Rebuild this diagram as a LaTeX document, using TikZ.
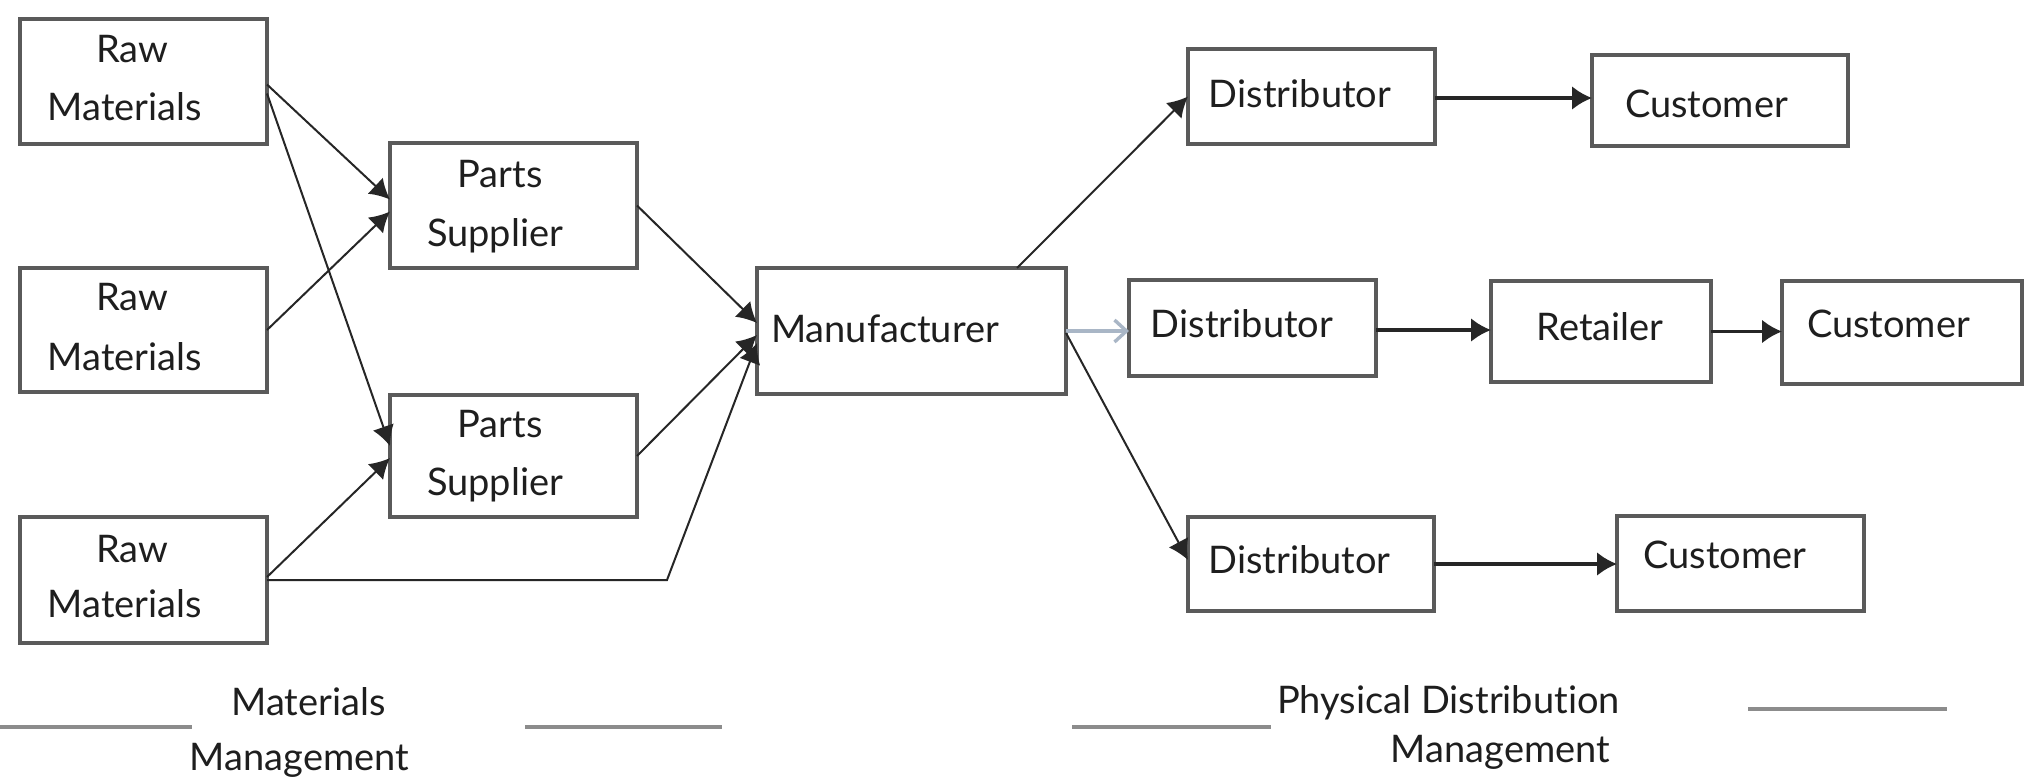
\documentclass[tikz,border=0pt]{standalone}
\usepackage{fontspec}
\setmainfont{Lato}[Ligatures={NoCommon}]
\usetikzlibrary{arrows.meta}
\definecolor{boxgray}{HTML}{5A5A5A}
\definecolor{txtcol}{HTML}{1E1E1E}
\definecolor{lblgray}{HTML}{8C8C8C}
\definecolor{lightarrow}{HTML}{A9B6C6}
\begin{document}
\begin{tikzpicture}[x=0.5pt,y=-0.5pt,
  box/.style={draw=boxgray, line width=1.6pt, inner sep=0pt, outer sep=0pt, fill=white},
  sz/.style 2 args={minimum width=#1*0.5pt, minimum height=#2*0.5pt},
  txt/.style={anchor=base, inner sep=0pt, font=\fontsize{19}{23}\selectfont, text=txtcol},
  conn/.style={draw=black!85, line width=1pt, -{Latex[length=10pt,width=11pt]}},
  thick conn/.style={draw=black!85, line width=1.7pt, -{Latex[length=10pt,width=12pt]}},
  lightconn/.style={draw=lightarrow, line width=1.7pt, -{Straight Barb[length=6pt,width=11pt,line width=1.7pt]}},
  lbl/.style={draw=lblgray, line width=2pt}
]
\useasboundingbox[fill=white] (0,0) rectangle (2024,782);

% boxes
\node[box, sz={247}{125}] (rm1) at (143.5,81.5) {};
\node[box, sz={247}{124}] (rm2) at (143.5,330) {};
\node[box, sz={247}{126}] (rm3) at (143.5,580) {};
\node[box, sz={247}{125}] (ps1) at (513.5,205.5) {};
\node[box, sz={247}{122}] (ps2) at (513.5,456) {};
\node[box, sz={309}{126}] (mfr) at (911.5,331) {};
\node[box, sz={247}{95}] (d1) at (1311.5,96.5) {};
\node[box, sz={256}{91}] (c1) at (1720,100.5) {};
\node[box, sz={247}{96}] (d2) at (1252.5,328) {};
\node[box, sz={220}{101}] (ret) at (1601,331.5) {};
\node[box, sz={240}{103}] (c2) at (1902,332.5) {};
\node[box, sz={246}{94}] (d3) at (1311,564) {};
\node[box, sz={247}{95}] (c3) at (1740.5,563.5) {};

% texts
\node[txt] (rm1a) at (132.5,62) {Raw};
\node[txt] (rm1b) at (125,120) {Materials};
\node[txt] (rm2a) at (132.5,310) {Raw};
\node[txt] (rm2b) at (125,370) {Materials};
\node[txt] (rm3a) at (132.5,562) {Raw};
\node[txt] (rm3b) at (125,617) {Materials};
\node[txt] (ps1a) at (500,187) {Parts};
\node[txt] (ps1b) at (495,246) {Supplier};
\node[txt] (ps2a) at (500,437) {Parts};
\node[txt] (ps2b) at (495,495) {Supplier};
\node[txt] (mfrt) at (885,342) {Manufacturer};
\node[txt] (d1t) at (1300,107) {Distributor};
\node[txt] (c1t) at (1706.5,117) {Customer};
\node[txt] (d2t) at (1242,337) {Distributor};
\node[txt] (rett) at (1600,340) {Retailer};
\node[txt] (c2t) at (1888.5,337) {Customer};
\node[txt] (d3t) at (1299.5,573) {Distributor};
\node[txt] (c3t) at (1725,568) {Customer};

% bottom labels
\node[txt] (mm1) at (308.5,715) {Materials};
\node[txt] (mm2) at (299.5,770) {Management};
\node[txt] (pd1) at (1448.5,713) {Physical Distribution};
\node[txt] (pd2) at (1500.5,762) {Management};
\coordinate (l1a) at (0,727);
\coordinate (l1b) at (192,727);
\coordinate (l2a) at (525,727);
\coordinate (l2b) at (722,727);
\coordinate (l3a) at (1072,727);
\coordinate (l3b) at (1271,727);
\coordinate (l4a) at (1748,709);
\coordinate (l4b) at (1947,709);
\draw[lbl] (l1a) -- (l1b);
\draw[lbl] (l2a) -- (l2b);
\draw[lbl] (l3a) -- (l3b);
\draw[lbl, line width=1.6pt] (l4a) -- (l4b);

% connectors: materials side
\draw[conn] ([yshift=-1.5pt]rm1.east) -- ([yshift=3pt]ps1.west);
\draw[conn] ([yshift=-6pt]rm1.east) -- ([yshift=5pt]ps2.west);
\draw[conn] (rm2.east) -- ([yshift=-3pt]ps1.west);
\draw[conn] ([yshift=1.5pt]rm3.east) -- ([yshift=-1pt]ps2.west);
\draw[conn] (ps1.east) -- ([yshift=4pt]mfr.west);
\draw[conn] (ps2.east) -- ([yshift=-2pt]mfr.west);
\coordinate (bend) at (667,580);
\draw[conn] (rm3.east) -- (bend) -- ([yshift=-6pt]mfr.west);

% connectors: distribution side
\draw[conn] ([xshift=52.75pt]mfr.north) -- (d1.west);
\draw[lightconn] (mfr.east) -- (mfr.east -| d2.west);
\draw[conn] ([yshift=-1pt]mfr.east) -- ([yshift=2pt]d3.west);
\draw[thick conn] ([yshift=-0.75pt]d1.east) -- ([yshift=-0.75pt]d1.east -| c1.west);
\draw[thick conn] ([yshift=-1pt]d2.east) -- ([yshift=-1pt]d2.east -| ret.west);
\draw[thick conn] (ret.east) -- (ret.east -| c2.west);
\draw[thick conn] (d3.east) -- (d3.east -| c3.west);
\end{tikzpicture}
\end{document}
